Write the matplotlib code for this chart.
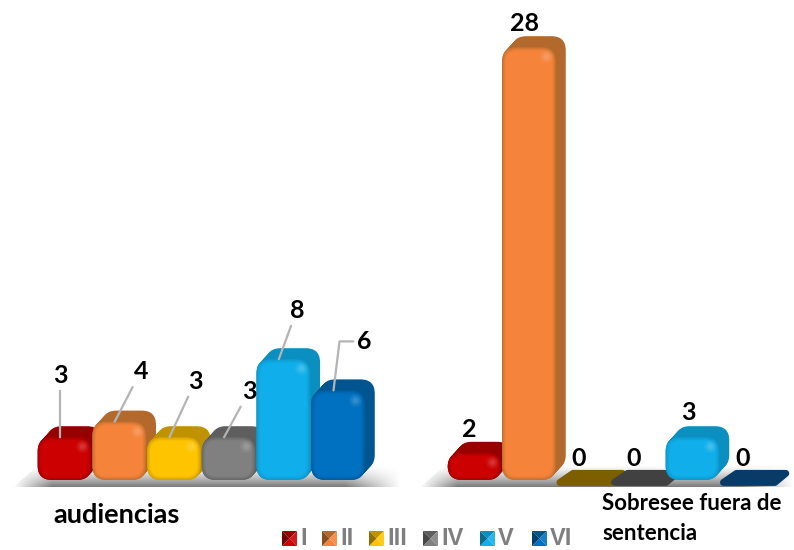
import matplotlib
matplotlib.use('Agg')
import matplotlib.pyplot as plt
import numpy as np
from matplotlib.colors import to_rgb
from matplotlib.patches import FancyBboxPatch, Polygon

# Data
series = ['I', 'II', 'III', 'IV', 'V', 'VI']
audiencias = [3, 4, 3, 3, 8, 6]
sobresee = [2, 28, 0, 0, 3, 0]

front_colors = ['#cc0000', '#f5843a', '#ffc400', '#808080', '#10aeea', '#0070c0']
side_colors = ['#960000', '#b3682c', '#c09200', '#5e5e5e', '#0b8fc0', '#005590']
flat_colors = ['#7a0000', '#9a5020', '#7d5f00', '#414141', '#0a6a90', '#093b68']

# Layout, pixels of the 794x550 figure
W, H = 794, 550
PX_X = 54.7     # one bar width
PX_Y = 15.6     # one unit of value
BASE_Y = 484
DEPTH_X, DEPTH_Y = 10 / PX_X, 11 / PX_Y
ASPECT = PX_X / PX_Y

plt.rcParams['font.family'] = ['Lato', 'DejaVu Sans']


def px(x_pixel):
    return x_pixel / PX_X


def py(y_pixel):
    return (BASE_Y - y_pixel) / PX_Y


def rounded(x0, y0, width, height, radius, **kw):
    return FancyBboxPatch((x0, y0), width, height,
                          boxstyle=f'round,pad=0,rounding_size={radius}',
                          mutation_aspect=ASPECT, linewidth=0, **kw)


def mix(color, other, amount):
    return tuple(np.array(to_rgb(color)) * (1 - amount) + np.array(to_rgb(other)) * amount)


def draw_floor(ax, left, right, z):
    # soft grey shadow the bars stand on
    ny, nx = 40, 300
    vert = np.linspace(0.0, 1.0, ny)[:, None] ** 1.3 * 0.8
    fade = np.clip(np.minimum(np.linspace(0, 10, nx), np.linspace(7, 0, nx)), 0, 1)
    img = np.zeros((ny, nx, 4))
    img[..., :3] = 0.35
    img[..., 3] = vert * fade
    extent = [px(left), px(right), py(487), py(465)]
    im = ax.imshow(img, extent=extent, aspect='auto', origin='upper', zorder=z, interpolation='bilinear')
    clip = Polygon([(px(left), py(487)), (px(right), py(487)), (px(right), py(465)), (px(left + 26), py(465))],
                   transform=ax.transData)
    im.set_clip_path(clip)


def draw_bar(ax, x, value, i, z):
    if value == 0:
        pts = [(x - 0.44, 0.1), (x + 0.5, 0.1), (x + 0.7, 0.68), (x - 0.2, 0.68)]
        ax.add_patch(Polygon(pts, closed=True, facecolor=flat_colors[i], edgecolor=flat_colors[i],
                             linewidth=5, joinstyle='round', zorder=z))
        return
    left = x - 0.5
    floor = 0.26
    w = 0.98
    h = value - floor
    r = 0.26
    # extruded side and top faces
    for k in np.linspace(1, 0, 14):
        ax.add_patch(rounded(left + k * DEPTH_X, floor + k * DEPTH_Y, w, h, r,
                             facecolor=side_colors[i], zorder=z))
    # bevelled front face
    for k in range(9):
        t = k / 8
        inset = 0.012 * k
        ax.add_patch(rounded(left + inset, floor + inset * ASPECT, w - 2 * inset, h - 2 * inset * ASPECT,
                             max(r - inset, 0.05),
                             facecolor=mix(side_colors[i], front_colors[i], min(1, 0.35 + t)), zorder=z))
    # highlight at the upper right corner
    hx, hy = left + w - 0.17, value - 0.17 * ASPECT
    for size, alpha in zip([90, 45, 15], [0.05, 0.07, 0.09]):
        ax.scatter([hx], [hy], s=size, color='white', alpha=alpha, linewidths=0, zorder=z)


fig = plt.figure(figsize=(W / 100, H / 100), dpi=100)
ax = fig.add_axes([0, 0, 1, 1])
ax.set_xlim(0, px(W))
ax.set_ylim(py(H), py(0))
ax.axis('off')

draw_floor(ax, 13, 400, 1)
draw_floor(ax, 420, 794, 1)

# left group
left_x = [px(65) + i * 1.0 for i in range(6)]
label_dx = [0, 26, 26, 25, 18, 31]
label_dy = [62, 50, 56, 46, 49, 49]
for i, v in enumerate(audiencias):
    draw_bar(ax, left_x[i], v, i, 2 + i)
for i, v in enumerate(audiencias):
    style = 'arc3' if i < 5 else 'angle,angleA=0,angleB=83,rad=0'
    ax.annotate(str(v), xy=(left_x[i] - 5 / PX_X, v), xycoords='data',
                xytext=(label_dx[i], label_dy[i]), textcoords='offset pixels',
                ha='center', va='center', fontsize=18, fontweight='bold', color='black', zorder=20,
                arrowprops=dict(arrowstyle='-', color='#b4b4b4', lw=1.6, shrinkA=1, shrinkB=0,
                                connectionstyle=style))

# right group
right_x = [px(475) + i * (54.5 / PX_X) for i in range(6)]
text_dx = [-6, -5, -5, -5, -5, -5]
text_dy = [23, 24, 25, 25, 25, 25]
for i, v in enumerate(sobresee):
    draw_bar(ax, right_x[i], v, i, 2 + i)
for i, v in enumerate(sobresee):
    ax.annotate(str(v), xy=(right_x[i], v), xytext=(text_dx[i], text_dy[i]), textcoords='offset pixels',
                ha='center', va='center', fontsize=18, fontweight='bold', color='black', zorder=20)

# category labels
ax.text(px(53), py(515), 'audiencias', ha='left', va='center', fontsize=19.5, fontweight='bold', color='black')
ax.text(px(602), py(504), 'Sobresee fuera de', ha='left', va='center', fontsize=16, fontweight='bold', color='black')
ax.text(px(602), py(534), 'sentencia', ha='left', va='center', fontsize=16, fontweight='bold', color='black')

# legend with little pyramid keys
key_left = [282, 322, 369, 423, 480, 532]
for i, name in enumerate(series):
    x0, x1 = px(key_left[i]), px(key_left[i] + 15)
    y0, y1 = py(546), py(531)
    cx, cy = (x0 + x1) / 2, (y0 + y1) / 2
    faces = [[(x0, y1), (x1, y1), (cx, cy)], [(x1, y1), (x1, y0), (cx, cy)],
             [(x0, y0), (x1, y0), (cx, cy)], [(x0, y0), (x0, y1), (cx, cy)]]
    shades = [side_colors[i], mix(front_colors[i], 'white', 0.1), front_colors[i], mix(side_colors[i], 'black', 0.25)]
    for pts, c in zip(faces, shades):
        ax.add_patch(Polygon(pts, closed=True, facecolor=c, linewidth=0, zorder=10))
    ax.text(px(key_left[i] + 18), py(538.5), name, ha='left', va='center',
            fontsize=17, fontweight='bold', color='#7f7f7f', family=['Liberation Sans', 'DejaVu Sans'])

fig.savefig('out.png', dpi=100)
